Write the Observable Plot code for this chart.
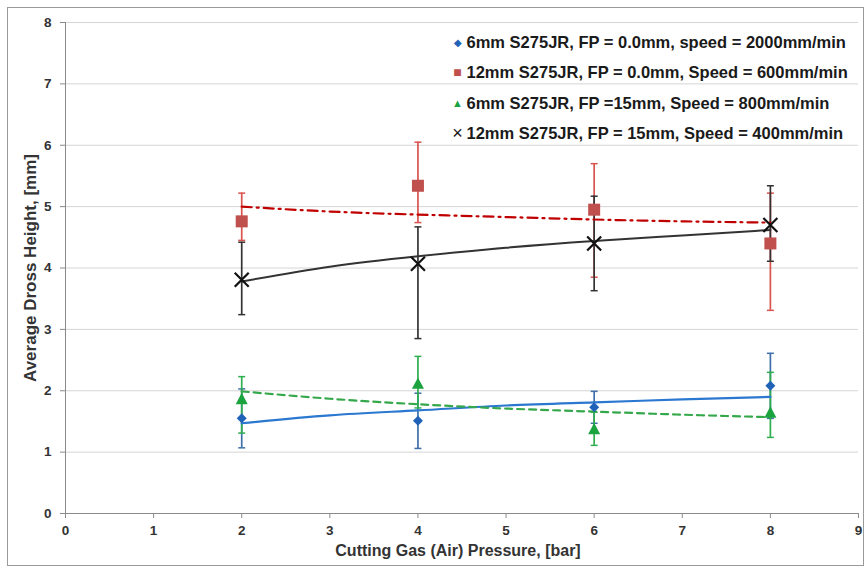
<!DOCTYPE html>
<html><head><meta charset="utf-8">
<script src="https://cdn.jsdelivr.net/npm/d3@7"></script>
<script src="https://cdn.jsdelivr.net/npm/@observablehq/plot@0.6"></script>
<style>
html,body{margin:0;padding:0;background:#fff;}
#chart{width:866px;height:570px;}
svg{font-family:"Liberation Sans",Arial,sans-serif;}
</style></head>
<body><div id="chart"></div>
<script>
// ---- data ----
const pressures = [2, 4, 6, 8];
const seriesNames = [
  "6mm S275JR, FP = 0.0mm, speed = 2000mm/min",
  "12mm S275JR, FP = 0.0mm, Speed = 600mm/min",
  "6mm S275JR, FP =15mm, Speed = 800mm/min",
  "12mm S275JR, FP = 15mm, Speed = 400mm/min"
];
const blueY  = [1.55, 1.51, 1.73, 2.08];
const blueLo = [1.07, 1.06, 1.47, 1.55];
const blueHi = [2.03, 1.96, 1.99, 2.61];
const redY   = [4.76, 5.34, 4.95, 4.40];
const redLo  = [4.45, 4.74, 3.85, 3.31];
const redHi  = [5.22, 6.05, 5.70, 5.22];
const greenY  = [1.87, 2.12, 1.38, 1.65];
const greenLo = [1.31, 1.72, 1.11, 1.24];
const greenHi = [2.23, 2.56, 1.65, 2.30];
const blackY  = [3.81, 4.07, 4.40, 4.70];
const blackLo = [3.24, 2.85, 3.63, 4.11];
const blackHi = [4.42, 4.67, 5.17, 5.34];
// trend lines (read at each bar of pressure)
const trendX = [2, 3, 4, 5, 6, 7, 8];
const blueTrend  = [1.47, 1.60, 1.68, 1.76, 1.81, 1.86, 1.90];
const redTrend   = [5.00, 4.92, 4.87, 4.83, 4.79, 4.76, 4.74];
const greenTrend = [1.99, 1.87, 1.78, 1.71, 1.66, 1.61, 1.57];
const blackTrend = [3.78, 4.02, 4.19, 4.33, 4.44, 4.53, 4.62];
const xTicks = [0, 1, 2, 3, 4, 5, 6, 7, 8, 9];
const yTicks = [0, 1, 2, 3, 4, 5, 6, 7, 8];
const xTitle = "Cutting Gas (Air) Pressure, [bar]";
const yTitle = "Average Dross Height, [mm]";

// ---- build tables ----
const pts = (ys, lo, hi) => pressures.map((x, i) => ({x, y: ys[i], lo: lo[i], hi: hi[i]}));
const blue = pts(blueY, blueLo, blueHi);
const red = pts(redY, redLo, redHi);
const green = pts(greenY, greenLo, greenHi);
const black = pts(blackY, blackLo, blackHi);
const tr = ys => trendX.map((x, i) => ({x, y: ys[i]}));

// ---- symbols ----
const diamond = {draw(c, s){const r = Math.sqrt(s/Math.PI); c.moveTo(0,-r); c.lineTo(r,0); c.lineTo(0,r); c.lineTo(-r,0); c.closePath();}};
const square = {draw(c, s){const r = Math.sqrt(s/Math.PI); c.rect(-r,-r,2*r,2*r);}};
const tri = {draw(c, s){const r = Math.sqrt(s/Math.PI); c.moveTo(0,-r); c.lineTo(r,r*0.9); c.lineTo(-r,r*0.9); c.closePath();}};
const cross = {draw(c, s){const r = Math.sqrt(s/Math.PI); c.moveTo(-r,-r); c.lineTo(r,r); c.moveTo(r,-r); c.lineTo(-r,r);}};
const cap = {draw(c, s){const r = Math.sqrt(s/Math.PI); c.moveTo(-r,0); c.lineTo(r,0);}};

const cols = {
  blue: "#1f62b8", blueLine: "#2b78d0", blueBar: "#3f6fa8",
  red: "#c0504d", redLine: "#c00000", redBar: "#d9534f",
  green: "#1aa33f", greenLine: "#34a84a", greenBar: "#2fae4e",
  black: "#111111", blackLine: "#333333", blackBar: "#333333"
};

function errBars(data, color) {
  return [
    Plot.ruleX(data, {x: "x", y1: "lo", y2: "hi", stroke: color, strokeWidth: 1.7}),
    Plot.dot(data, {x: "x", y: "lo", symbol: cap, r: 3.5, stroke: color, fill: "none", strokeWidth: 1.5}),
    Plot.dot(data, {x: "x", y: "hi", symbol: cap, r: 3.5, stroke: color, fill: "none", strokeWidth: 1.5})
  ];
}

const legendColors = [cols.blue, cols.red, cols.green, cols.black];
const legendGlyphs = ["◆", "■", "▲", "×"];
const legendSizes = [10, 14, 11, 18];
const legendMarks = seriesNames.flatMap((name, i) => [
  Plot.text([legendGlyphs[i]], {frameAnchor: "top-left", dx: 392, dy: 20 + i * 30.4, text: d => d,
    fill: legendColors[i], fontSize: legendSizes[i], textAnchor: "middle", lineAnchor: "middle"}),
  Plot.text([name], {frameAnchor: "top-left", dx: 401, dy: 20 + i * 30.4, text: d => d,
    fill: "#1a1a1a", fontSize: 16.5, fontWeight: "bold", textAnchor: "start", lineAnchor: "middle"})
]);

const chart = Plot.plot({
  width: 866, height: 570,
  marginLeft: 65, marginRight: 8, marginTop: 22, marginBottom: 57,
  style: {fontFamily: "'Liberation Sans', Arial, sans-serif", background: "#fff", overflow: "visible"},
  x: {domain: [0, 9]},
  y: {domain: [0, 8]},
  marks: [
    Plot.frame({stroke: "#9a9a9a", insetLeft: -58, insetTop: -15, insetRight: -5, insetBottom: -52}),
    Plot.ruleY(yTicks.filter(d => d > 0), {stroke: "#d4d4d4", strokeWidth: 1}),
    Plot.axisY({ticks: yTicks, tickSize: 5, tickPadding: 9, label: null, stroke: "#8a8a8a",
      fontSize: 13.5, fontWeight: "bold", fill: "#333", tickFormat: d3.format("d")}),
    Plot.axisX({ticks: xTicks, tickSize: 5, tickPadding: 7, label: null, stroke: "#8a8a8a",
      fontSize: 13.5, fontWeight: "bold", fill: "#333", tickFormat: d3.format("d")}),
    Plot.ruleX([0], {stroke: "#8a8a8a"}),
    Plot.ruleY([0], {stroke: "#8a8a8a"}),
    Plot.text([yTitle], {frameAnchor: "left", dx: -35, rotate: -90, text: d => d,
      textAnchor: "middle", lineAnchor: "middle",
      fontSize: 17, fontWeight: "bold", fill: "#333"}),
    Plot.text([xTitle], {frameAnchor: "bottom", dx: -4, dy: 37, text: d => d,
      textAnchor: "middle", lineAnchor: "middle",
      fontSize: 16, fontWeight: "bold", fill: "#333"}),
    ...errBars(blue, cols.blueBar),
    ...errBars(green, cols.greenBar),
    ...errBars(red, cols.redBar),
    ...errBars(black, cols.blackBar),
    Plot.line(tr(blueTrend), {x: "x", y: "y", curve: "natural", stroke: cols.blueLine, strokeWidth: 2.2}),
    Plot.line(tr(greenTrend), {x: "x", y: "y", curve: "natural", stroke: cols.greenLine, strokeWidth: 2.2, strokeDasharray: "7,5"}),
    Plot.line(tr(redTrend), {x: "x", y: "y", curve: "natural", stroke: cols.redLine, strokeWidth: 2.2, strokeDasharray: "10,5,2,5"}),
    Plot.line(tr(blackTrend), {x: "x", y: "y", curve: "natural", stroke: cols.blackLine, strokeWidth: 2}),
    Plot.dot(blue, {x: "x", y: "y", symbol: diamond, r: 5, fill: cols.blue}),
    Plot.dot(red, {x: "x", y: "y", symbol: square, r: 6, fill: cols.red}),
    Plot.dot(green, {x: "x", y: "y", symbol: tri, r: 6, fill: cols.green}),
    Plot.dot(black, {x: "x", y: "y", symbol: cross, r: 7, stroke: cols.black, strokeWidth: 2.2, fill: "none"}),
    ...legendMarks
  ]
});
document.getElementById("chart").append(chart);
</script></body></html>
